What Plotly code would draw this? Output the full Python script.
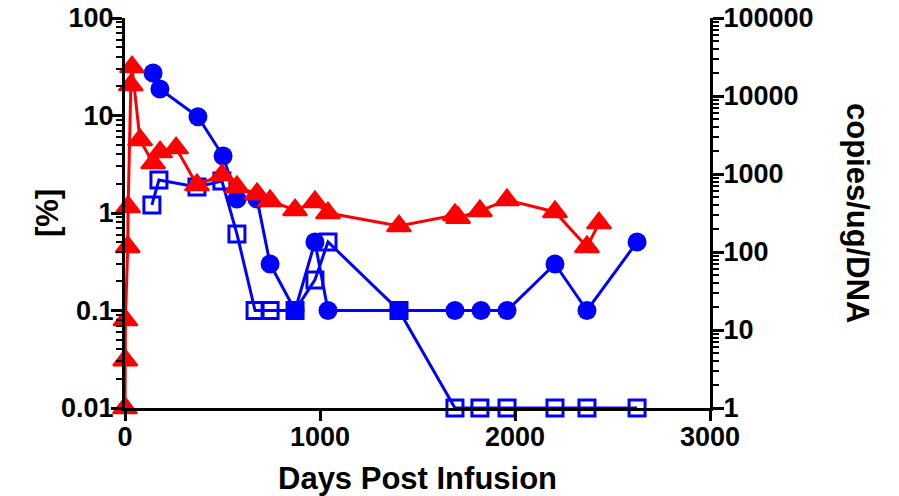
import plotly.graph_objects as go

# Blue filled circles (% , left axis)
circle_days = [144, 179, 374, 503, 574, 677, 744, 872, 974, 1041, 1405, 1692, 1826, 1959, 2205, 2369, 2626]
circle_pct = [27.3, 18.7, 9.7, 3.84, 1.39, 1.39, 0.30, 0.10, 0.505, 0.10, 0.10, 0.10, 0.10, 0.10, 0.30, 0.10, 0.505]

# Blue open squares (% , left axis)
square_days = [138, 174, 369, 497, 574, 667, 744, 872, 974, 1041, 1405, 1692, 1820, 1959, 2205, 2369, 2626]
square_pct = [1.21, 2.18, 1.85, 2.13, 0.61, 0.10, 0.10, 0.10, 0.206, 0.505, 0.10, 0.01, 0.01, 0.01, 0.01, 0.01, 0.01]

# Red triangles (copies/ug/DNA, right axis)
tri_days = [0, 1, 2, 14, 16, 30, 36, 77, 144, 180, 262, 369, 497, 574, 677, 744, 872, 974, 1041, 1405, 1692, 1708, 1820, 1959, 2205, 2369, 2431]
tri_copies = [1, 4.1, 13.4, 116, 378, 13800, 23500, 2730, 1380, 1910, 2150, 723, 970, 681, 555, 451, 345, 438, 316, 215, 298, 275, 336, 464, 326, 116, 235]

x_ticks = [0, 1000, 2000, 3000]
left_ticks = [0.01, 0.1, 1, 10, 100]
left_ticktext = ["0.01", "0.1", "1", "10", "100"]
right_ticks = [1, 10, 100, 1000, 10000, 100000]
right_ticktext = ["1", "10", "100", "1000", "10000", "100000"]

BLUE = "#0000ff"
RED = "#ff0000"
FONT = "Liberation Sans, Arial, sans-serif"

fig = go.Figure()
fig.add_trace(go.Scatter(
    x=tri_days, y=tri_copies, yaxis="y2", mode="lines+markers",
    line=dict(color=RED, width=3),
    marker=dict(symbol="triangle-up", size=21, color=RED, line=dict(color=RED, width=2)),
    cliponaxis=False, showlegend=False))
fig.add_trace(go.Scatter(
    x=circle_days, y=circle_pct, mode="lines+markers",
    line=dict(color=BLUE, width=3),
    marker=dict(symbol="circle", size=19, color=BLUE, line=dict(width=0)),
    cliponaxis=False, showlegend=False))
fig.add_trace(go.Scatter(
    x=square_days, y=square_pct, mode="lines+markers",
    line=dict(color=BLUE, width=3),
    marker=dict(symbol="square-open", size=16, color=BLUE, line=dict(color=BLUE, width=3)),
    cliponaxis=False, showlegend=False))

minor_left = [m * 10 ** e for e in range(-2, 2) for m in range(2, 10)]
minor_right = [m * 10 ** e for e in range(0, 5) for m in range(2, 10)]

tickfont = dict(family=FONT, size=27, color="black", weight="bold")

# screen plot area (page has an 8px body offset)
OFF = 8
SX0, SX1, SY0, SY1 = 125, 710, 18, 408
fig.update_layout(
    width=899, height=496,
    margin=dict(l=SX0 - OFF, r=899 - (SX1 - OFF), t=SY0 - OFF, b=496 - (SY1 - OFF)),
    paper_bgcolor="white", plot_bgcolor="white",
    font=dict(family=FONT, color="black"),
    xaxis=dict(
        range=[0, 3000], tickvals=x_ticks, ticktext=[str(v) for v in x_ticks],
        showline=True, linecolor="black", linewidth=3, mirror=False,
        ticks="outside", ticklen=10, tickwidth=3, tickcolor="black",
        showgrid=False, zeroline=False, tickfont=tickfont, automargin=False,
        ticklabelstandoff=-7, ticklabeloverflow="allow",
    ),
    yaxis=dict(
        type="log", range=[-2, 2], tickvals=left_ticks, ticktext=left_ticktext,
        showline=True, linecolor="black", linewidth=3,
        ticks="outside", ticklen=11, tickwidth=3, tickcolor="black",
        minor=dict(tickvals=minor_left, ticks="outside", ticklen=6, tickwidth=2, tickcolor="black"),
        showgrid=False, zeroline=False, tickfont=tickfont, automargin=False,
        ticklabelstandoff=-8, ticklabeloverflow="allow",
    ),
    yaxis2=dict(
        type="log", range=[0, 5], overlaying="y", side="right", anchor="x",
        tickvals=right_ticks, ticktext=right_ticktext,
        showline=True, linecolor="black", linewidth=3,
        ticks="outside", ticklen=11, tickwidth=3, tickcolor="black",
        minor=dict(tickvals=minor_right, ticks="outside", ticklen=6, tickwidth=2, tickcolor="black"),
        showgrid=False, zeroline=False, tickfont=tickfont, automargin=False,
        ticklabelstandoff=-6, ticklabeloverflow="allow",
    ),
)

plot_w = SX1 - SX0
plot_h = SY1 - SY0
def px_to_paper_x(px):
    return (px - SX0) / plot_w
def px_to_paper_y(py):
    return (SY1 - py) / plot_h

title_font = dict(family=FONT, size=31, color="black", weight="bold")
fig.add_annotation(text="Days Post Infusion", x=px_to_paper_x(417), y=px_to_paper_y(478),
                   xref="paper", yref="paper", showarrow=False, font=title_font,
                   xanchor="center", yanchor="middle")
fig.add_annotation(text="[%]", x=px_to_paper_x(47), y=px_to_paper_y(213),
                   xref="paper", yref="paper", showarrow=False, textangle=-90,
                   font=title_font, xanchor="center", yanchor="middle")
fig.add_annotation(text="copies/ug/DNA", x=px_to_paper_x(858), y=px_to_paper_y(213),
                   xref="paper", yref="paper", showarrow=False, textangle=90,
                   font=title_font, xanchor="center", yanchor="middle")

fig.write_html("out.html")
